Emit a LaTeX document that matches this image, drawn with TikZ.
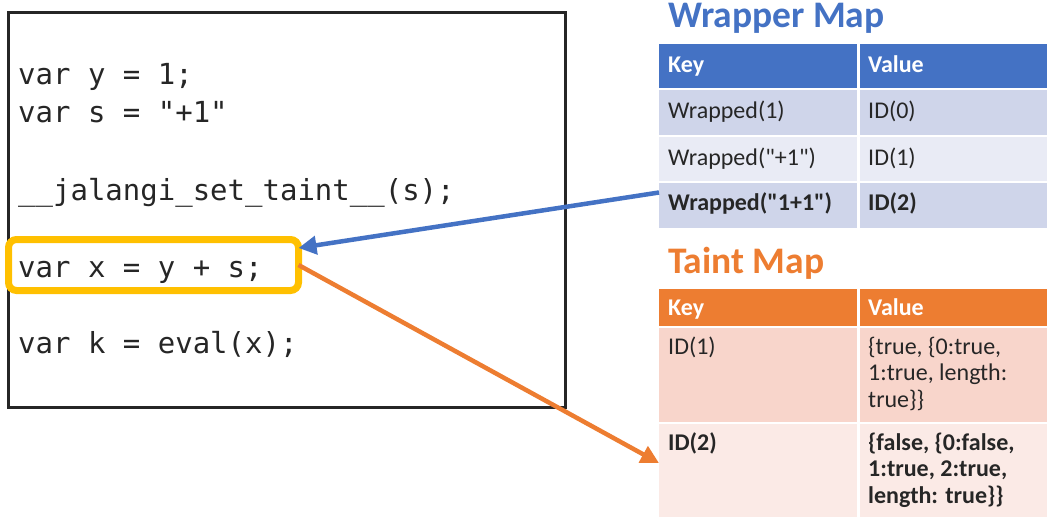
\documentclass[tikz,border=0pt]{standalone}
\usepackage{fontspec}
\setmainfont{Carlito}[Ligatures=TeXOff]
\newfontfamily\codefont{DejaVu Sans Mono}
\usetikzlibrary{arrows.meta}
\definecolor{wrapblue}{HTML}{4472C4}
\definecolor{wrapbandA}{HTML}{CFD5EA}
\definecolor{wrapbandB}{HTML}{E9EBF5}
\definecolor{taintorange}{HTML}{ED7D31}
\definecolor{taintbandA}{HTML}{F8D5CB}
\definecolor{taintbandB}{HTML}{FBEAE6}
\definecolor{hlyellow}{HTML}{FFC000}
\definecolor{celltext}{HTML}{262626}
\begin{document}
\begin{tikzpicture}[x=1pt, y=-1pt,
		codeline/.style={anchor=base west, inner sep=0pt, font=\codefont\fontsize{29}{35}\selectfont, text=celltext},
		maptitle/.style={anchor=base west, inner sep=0pt, font=\fontsize{37.5}{42}\selectfont\bfseries},
		cell/.style={anchor=north west, inner sep=0pt, outer sep=0pt},
		celltxt/.style={anchor=base west, inner sep=0pt, align=left, font=\fontsize{24}{26.5}\selectfont, text=celltext},
		boldtxt/.style={celltxt, font=\fontsize{24}{26.5}\selectfont\bfseries},
		headtxt/.style={boldtxt, text=white},
		link/.style={line width=4.5pt, -{Triangle[length=18pt, width=18pt]}}]
	\useasboundingbox ( 0, 0 ) rectangle ( 1047, 517 );
	% code
	\node [cell, draw=black!85, line width=3pt, minimum width=557pt, minimum height=395pt] (code) at ( 8.5, 12.5 ) {};
	\node [cell, draw=hlyellow, line width=7pt, rounded corners=8pt, minimum width=290pt, minimum height=51pt] (hl) at ( 8.5, 239.5 ) {};
	\node [codeline] (ly) at ( 18, 84 ) {var y = 1;};
	\node [codeline] (ls) at ( 18, 122 ) {var s = "+1"};
	\node [codeline] (lt) at ( 18, 200 ) {\_\_jalangi\_set\_taint\_\_(s);};
	\node [codeline] (lx) at ( 18, 277 ) {var x = y + s;};
	\node [codeline] (lk) at ( 18, 353 ) {var k = eval(x);};
	% wrapper map
	\node [maptitle, text=wrapblue] (wtitle) at ( 668, 27 ) {Wrapper Map};
	\node [cell, fill=wrapblue, minimum width=198pt, minimum height=44pt] (wkh) at ( 659, 44 ) {};
	\node [cell, fill=wrapblue, minimum width=187pt, minimum height=44pt] (wvh) at ( 860, 44 ) {};
	\node [cell, fill=wrapbandA, minimum width=198pt, minimum height=45pt] (wk1) at ( 659, 90 ) {};
	\node [cell, fill=wrapbandA, minimum width=187pt, minimum height=45pt] (wv1) at ( 860, 90 ) {};
	\node [cell, fill=wrapbandB, minimum width=198pt, minimum height=44pt] (wk2) at ( 659, 137 ) {};
	\node [cell, fill=wrapbandB, minimum width=187pt, minimum height=44pt] (wv2) at ( 860, 137 ) {};
	\node [cell, fill=wrapbandA, minimum width=198pt, minimum height=45pt] (wk3) at ( 659, 183 ) {};
	\node [cell, fill=wrapbandA, minimum width=187pt, minimum height=45pt] (wv3) at ( 860, 183 ) {};
	\node [headtxt] (wkey) at ( 668, 72 ) {Key};
	\node [headtxt] (wval) at ( 868, 72 ) {Value};
	\node [celltxt] (wkey1) at ( 668, 118 ) {Wrapped(1)};
	\node [celltxt] (wval1) at ( 868, 118 ) {ID(0)};
	\node [celltxt] (wkey2) at ( 668, 165 ) {Wrapped("+1")};
	\node [celltxt] (wval2) at ( 868, 165 ) {ID(1)};
	\node [boldtxt] (wkey3) at ( 668, 210 ) {Wrapped("1+1")};
	\node [boldtxt] (wval3) at ( 868, 210 ) {ID(2)};
	% taint map
	\node [maptitle, text=taintorange] (ttitle) at ( 668, 273 ) {Taint Map};
	\node [cell, fill=taintorange, minimum width=198pt, minimum height=37pt] (tkh) at ( 659, 289 ) {};
	\node [cell, fill=taintorange, minimum width=187pt, minimum height=37pt] (tvh) at ( 860, 289 ) {};
	\node [cell, fill=taintbandA, minimum width=198pt, minimum height=94pt] (tk1) at ( 659, 328 ) {};
	\node [cell, fill=taintbandA, minimum width=187pt, minimum height=94pt] (tv1) at ( 860, 328 ) {};
	\node [cell, fill=taintbandB, minimum width=198pt, minimum height=93pt] (tk2) at ( 659, 424 ) {};
	\node [cell, fill=taintbandB, minimum width=187pt, minimum height=93pt] (tv2) at ( 860, 424 ) {};
	\node [headtxt] (tkey) at ( 668, 315 ) {Key};
	\node [headtxt] (tval) at ( 868, 315 ) {Value};
	\node [celltxt] (tkey1) at ( 668, 354 ) {ID(1)};
	\node [celltxt] (tval1) at ( 868, 407 ) {\{true, \{0:true,\\1:true, length:\\true\}\}};
	\node [boldtxt] (tkey2) at ( 668, 450 ) {ID(2)};
	\node [boldtxt] (tval2) at ( 868, 503 ) {\{false, \{0:false,\\1:true, 2:true,\\length: true\}\}};
	% arrows
	\draw [link, draw=wrapblue, fill=wrapblue] ([yshift=13pt]wk3.west) -- ([yshift=17pt]hl.east);
	\draw [link, draw=taintorange, fill=taintorange] (hl.east) -- ([yshift=7.5pt]tk2.west);
\end{tikzpicture}
\end{document}
